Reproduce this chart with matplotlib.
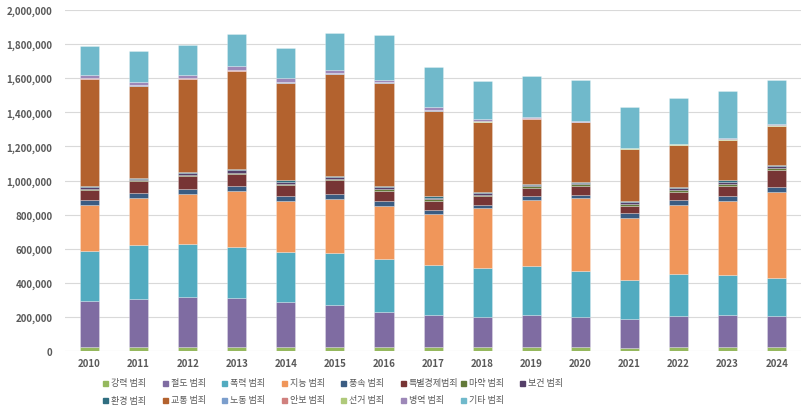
"""
Stacked bar chart of crime counts by category, 2010-2024.
"""

import matplotlib
matplotlib.use("Agg")
import matplotlib.pyplot as plt
from matplotlib.patches import Rectangle
from matplotlib.ticker import FuncFormatter
import numpy as np

plt.rcParams["font.family"] = ["Noto Sans CJK KR", "DejaVu Sans"]

YEARS = [str(y) for y in range(2010, 2025)]

CATEGORIES = [
    "강력 범죄", "절도 범죄", "폭력 범죄", "지능 범죄", "풍속 범죄",
    "특별경제범죄", "마약 범죄", "보건 범죄", "환경 범죄", "교통 범죄",
    "노동 범죄", "안보 범죄", "선거 범죄", "병역 범죄", "기타 범죄",
]

# values in thousands
violent = [25, 27, 23, 27, 23, 23, 25, 25, 25, 25, 25, 21, 25, 25, 23]
theft = [270, 281, 293, 287, 268, 248, 203, 188, 178, 190, 178, 168, 182, 190, 186]
assault = [294, 312, 312, 295, 290, 305, 310, 292, 287, 286, 267, 230, 244, 234, 218]
fraud = [268, 277, 295, 329, 299, 318, 313, 301, 347, 383, 426, 363, 406, 433, 504]
morals = [31, 32, 27, 30, 27, 27, 27, 23, 20, 23, 21, 30, 27, 25, 29]
econ = [58, 69, 78, 72, 69, 82, 62, 53, 54, 51, 51, 41, 51, 59, 103]
drugs = [6, 5, 6, 7, 6, 6, 8, 8, 7, 8, 9, 10, 12, 15, 12]
health = [8, 8, 10, 12, 12, 12, 14, 10, 9, 9, 8, 9, 10, 12, 10]
environ = [8, 5, 6, 8, 7, 7, 8, 7, 6, 6, 6, 6, 7, 8, 6]
traffic = [626, 539, 544, 574, 573, 597, 602, 502, 407, 379, 349, 306, 244, 234, 226]
labor = [3, 3, 3, 3, 3, 3, 3, 3, 3, 3, 3, 2, 2, 3, 3]
security = [1, 1, 1, 1, 1, 1, 1, 1, 1, 1, 1, 1, 1, 1, 1]
election = [2, 3, 2, 3, 2, 2, 2, 3, 2, 3, 1, 1, 1, 3, 2]
military = [17, 16, 17, 20, 20, 16, 12, 12, 14, 6, 3, 2, 2, 5, 8]
other = [168, 178, 178, 193, 179, 217, 261, 236, 222, 238, 242, 242, 271, 275, 255]

SERIES = [violent, theft, assault, fraud, morals, econ, drugs, health,
          environ, traffic, labor, security, election, military, other]

COLORS = [
    "#95B85E", "#7F6CA2", "#52ABC0", "#F0965A", "#3A5C82",
    "#773535", "#637A3A", "#553F68", "#2F6E80", "#B3622E",
    "#7B9ECC", "#D0807E", "#AFC97A", "#9D88B8", "#70B9CB",
]

TEXT_COLOR = "#595959"
GRID_COLOR = "#D9D9D9"


def plot_stacked(save_path="out.png"):
    fig = plt.figure(figsize=(8.02, 4.10), dpi=100)
    ax = fig.add_axes([0.081, 0.1407, 0.918, 0.833])

    x = np.arange(len(YEARS))
    bottom = np.zeros(len(YEARS))
    for vals, color in zip(SERIES, COLORS):
        v = np.array(vals) * 1000
        ax.bar(x, v, width=0.39, bottom=bottom, color=color,
               edgecolor=(1, 1, 1, 0.45), linewidth=0.4, zorder=3)
        bottom += v

    ax.set_xlim(-0.5, len(YEARS) - 0.5)
    ax.set_ylim(0, 2_000_000)
    ax.set_yticks(np.arange(0, 2_000_001, 200_000))
    ax.yaxis.set_major_formatter(FuncFormatter(lambda v, _: f"{v:,.0f}"))
    ax.set_xticks(x)
    ax.set_xticklabels(YEARS)

    ax.tick_params(axis="both", length=0, labelsize=7, labelcolor=TEXT_COLOR)
    ax.tick_params(axis="y", pad=9)
    ax.tick_params(axis="x", pad=5)
    for lbl in ax.get_xticklabels() + ax.get_yticklabels():
        lbl.set_fontweight("bold")

    ax.grid(True, axis="y", color=GRID_COLOR, linewidth=0.8, zorder=0)
    for side in ["top", "right", "left", "bottom"]:
        ax.spines[side].set_visible(False)

    # legend drawn by hand: 8 equal columns, row-major like the source
    W, H = 802, 410
    col_x0, col_step = 103, 59.6
    row_y = [384, 401]
    for i, (name, color) in enumerate(zip(CATEGORIES, COLORS)):
        row, col = divmod(i, 8)
        px = col_x0 + col * col_step
        py = row_y[row]
        fig.patches.append(Rectangle(((px) / W, 1 - (py + 2.5) / H), 5 / W, 5 / H,
                                     transform=fig.transFigure, color=color,
                                     figure=fig))
        fig.text((px + 8) / W, 1 - py / H, name, fontsize=6.5,
                 color=TEXT_COLOR, va="center", ha="left")

    fig.savefig(save_path, dpi=100)
    plt.close(fig)


if __name__ == "__main__":
    plot_stacked()
